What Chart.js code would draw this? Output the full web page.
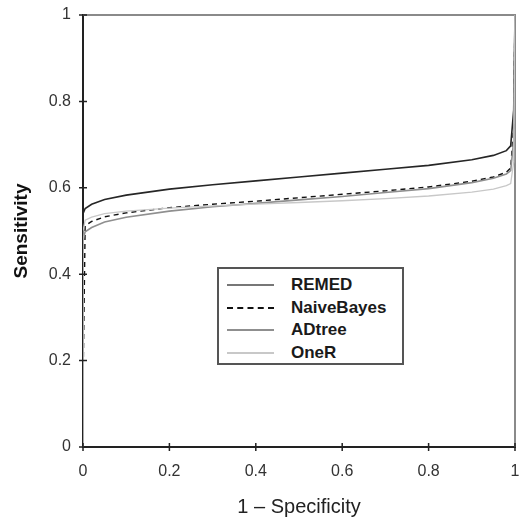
<!DOCTYPE html>
<html>
<head>
<meta charset="utf-8">
<script src="https://cdn.jsdelivr.net/npm/chart.js@4.4.1/dist/chart.umd.min.js"></script>
<style>
  html, body { margin: 0; padding: 0; background: #fff; }
  #wrap { position: relative; width: 525px; height: 519px; }
  #legend {
    position: absolute; left: 217px; top: 267px; width: 187px; height: 98px;
    border: 2px solid #555; box-sizing: border-box; background: #fff;
    font: bold 17px "Liberation Sans", Arial, sans-serif; color: #1a1a1a;
    padding: 5px 0 0 8px;
  }
  .row { display: flex; align-items: center; height: 22.5px; }
  .sample { width: 47px; height: 0; margin-right: 17px; }
</style>
</head>
<body>
<div id="wrap">
  <canvas id="roc" width="525" height="519"></canvas>
  <div id="legend"></div>
</div>
<script>
// Abscisse commune (1 - spécificité)
const fpr = [0, 0, 0.005, 0.02, 0.05, 0.1, 0.2, 0.3, 0.4, 0.5, 0.6, 0.7, 0.8, 0.9, 0.95, 0.98, 0.99, 0.997, 1];

// Sensibilité par modèle
const remed      = [0, 0.54, 0.552, 0.562, 0.573, 0.583, 0.597, 0.607, 0.616, 0.625, 0.634, 0.643, 0.652, 0.665, 0.675, 0.686, 0.697, 0.78, 1];
const naiveBayes = [0, 0.14, 0.512, 0.522, 0.533, 0.542, 0.554, 0.562, 0.569, 0.577, 0.585, 0.593, 0.602, 0.615, 0.625, 0.636, 0.646, 0.74, 1];
const adtree     = [0, 0.48, 0.498, 0.508, 0.521, 0.532, 0.546, 0.556, 0.564, 0.572, 0.58, 0.589, 0.598, 0.612, 0.622, 0.632, 0.64, 0.71, 1];
const oneR       = [0, 0.5, 0.525, 0.532, 0.54, 0.546, 0.553, 0.558, 0.562, 0.566, 0.57, 0.575, 0.581, 0.59, 0.597, 0.605, 0.61, 0.66, 1];

const seriesNames = ['REMED', 'NaiveBayes', 'ADtree', 'OneR'];
const seriesData = [remed, naiveBayes, adtree, oneR];
const seriesColors = ['#262626', '#111111', '#8f8f8f', '#c8c8c8'];
const seriesDash = [[], [5, 4], [], []];
const seriesWidth = [1.6, 1.4, 1.6, 1.3];

const xTicks = [0, 0.2, 0.4, 0.6, 0.8, 1];
const yTicks = [0, 0.2, 0.4, 0.6, 0.8, 1];
const tickText = ['0', '0.2', '0.4', '0.6', '0.8', '1'];

const datasets = seriesNames.map((name, i) => ({
    label: name,
    data: fpr.map((x, k) => ({ x: x, y: seriesData[i][k] })),
    showLine: true,
    borderColor: seriesColors[i],
    borderWidth: seriesWidth[i],
    borderDash: seriesDash[i],
    pointRadius: 0,
    tension: 0,
    fill: false
})).reverse();

// Cadre gris + graduations qui traversent les axes
const framePlugin = {
    id: 'frame',
    beforeDatasetsDraw(chart) {
        const a = chart.chartArea;
        const ctx = chart.ctx;
        ctx.save();
        ctx.strokeStyle = '#8a8a8a';
        ctx.lineWidth = 2;
        ctx.beginPath();
        ctx.moveTo(a.left, a.top);
        ctx.lineTo(a.right, a.top);
        ctx.lineTo(a.right, a.bottom);
        ctx.stroke();
        ctx.restore();
    },
    afterDraw(chart) {
        const a = chart.chartArea;
        const ctx = chart.ctx;
        ctx.save();
        ctx.strokeStyle = '#222';
        ctx.lineWidth = 1.5;
        ctx.beginPath();
        xTicks.forEach(v => {
            const px = chart.scales.x.getPixelForValue(v);
            ctx.moveTo(px, a.bottom - 4);
            ctx.lineTo(px, a.bottom + 4);
        });
        yTicks.forEach(v => {
            const py = chart.scales.y.getPixelForValue(v);
            ctx.moveTo(a.left - 4, py);
            ctx.lineTo(a.left + 4, py);
        });
        ctx.stroke();
        ctx.restore();
    }
};

const tickLabel = (value, index) => tickText[index];

new Chart(document.getElementById('roc'), {
    type: 'scatter',
    data: { datasets: datasets },
    plugins: [framePlugin],
    options: {
        responsive: false,
        animation: false,
        layout: { padding: { left: 8, right: 10, top: 15, bottom: 0 } },
        plugins: { legend: { display: false }, tooltip: { enabled: false } },
        scales: {
            x: {
                type: 'linear', min: 0, max: 1,
                afterBuildTicks: s => { s.ticks = xTicks.map(v => ({ value: v })); },
                afterFit: s => { s.height = 72; s.paddingLeft = 0; s.paddingRight = 0; },
                grid: { display: false, drawTicks: false },
                border: { color: '#222', width: 2 },
                ticks: {
                    color: '#333', padding: 15, callback: tickLabel,
                    font: { family: 'Liberation Sans, Arial', size: 16 }
                },
                title: {
                    display: true, text: '1 \u2013 Specificity', color: '#222',
                    font: { family: 'Liberation Sans, Arial', size: 20 },
                    padding: { top: 2, bottom: 0 }
                }
            },
            y: {
                type: 'linear', min: 0, max: 1,
                afterBuildTicks: s => { s.ticks = yTicks.map(v => ({ value: v })); },
                afterFit: s => { s.width = 75; s.paddingTop = 0; s.paddingBottom = 0; },
                grid: { display: false, drawTicks: false },
                border: { color: '#222', width: 2 },
                ticks: {
                    color: '#333', padding: 12, callback: tickLabel,
                    font: { family: 'Liberation Sans, Arial', size: 16 }
                },
                title: {
                    display: true, text: 'Sensitivity', color: '#111',
                    font: { family: 'Liberation Sans, Arial', size: 19, weight: 'bold' },
                    padding: { top: 2, bottom: 0 }
                }
            }
        }
    }
});

// Légende HTML dans le graphique
const legend = document.getElementById('legend');
seriesNames.forEach((name, i) => {
    const row = document.createElement('div');
    row.className = 'row';
    const sample = document.createElement('div');
    sample.className = 'sample';
    sample.style.borderTop = (i === 1 ? '2px dashed ' : '2px solid ') + (i === 0 ? '#777' : seriesColors[i]);
    const label = document.createElement('span');
    label.textContent = name;
    row.appendChild(sample);
    row.appendChild(label);
    legend.appendChild(row);
});
</script>
</body>
</html>
